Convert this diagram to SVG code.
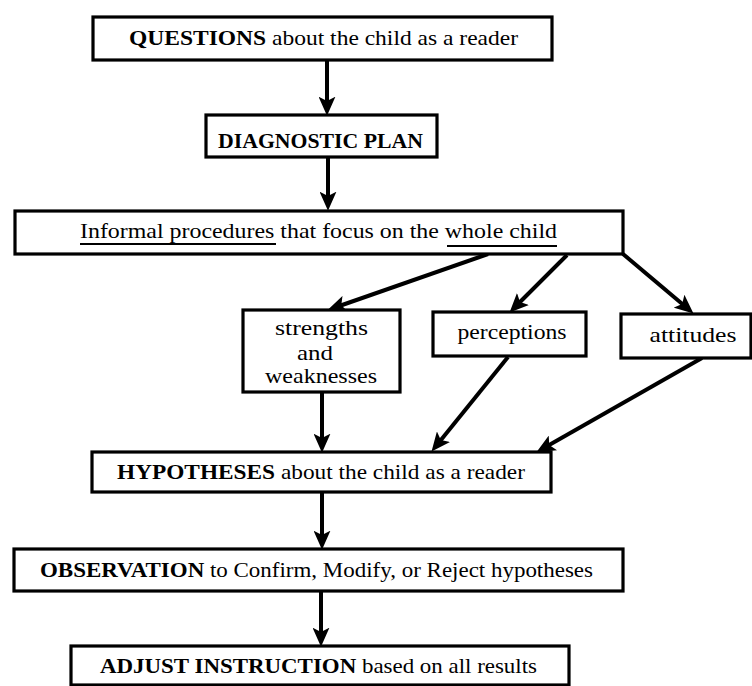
<svg xmlns="http://www.w3.org/2000/svg" width="752" height="686" viewBox="0 0 752 686">
<style>
.box{fill:#fff;stroke:#000;stroke-width:3.2}
.t{font-family:"Liberation Serif","Times New Roman",serif;font-size:22px;fill:#000;text-anchor:middle}
.b{font-weight:bold}
.c{stroke:#000;stroke-width:4;fill:none;marker-end:url(#ah)}
.u{stroke:#000;stroke-width:2}
</style>
<defs>
<marker id="ah" viewBox="0 0 18 16" refX="6" refY="8" markerWidth="19" markerHeight="17" markerUnits="userSpaceOnUse" orient="auto">
<path d="M0,0 L18,8 L0,16 L4,8 z" fill="#000"/>
</marker>
</defs>
<rect width="752" height="686" fill="#fff"/>
<g id="connectors">
<line class="c" x1="327" y1="59" x2="327" y2="103"/>
<line class="c" x1="328" y1="157" x2="328" y2="198"/>
<line class="c" x1="488" y1="254" x2="339.3" y2="306"/>
<line class="c" x1="567" y1="255" x2="518.5" y2="303.5"/>
<line class="c" x1="623" y1="254" x2="683.8" y2="305.3"/>
<line class="c" x1="322" y1="392" x2="322" y2="440"/>
<line class="c" x1="508" y1="357" x2="439.5" y2="441.7"/>
<line class="c" x1="702" y1="358" x2="547.4" y2="446.1"/>
<line class="c" x1="322" y1="492" x2="322" y2="537"/>
<line class="c" x1="321" y1="591" x2="321" y2="634"/>
</g>
<g id="questions">
<rect class="box" x="93" y="17" width="459" height="43"/>
<text class="t" x="323.5" y="45" textLength="389" lengthAdjust="spacingAndGlyphs"><tspan class="b">QUESTIONS</tspan> about the child as a reader</text>
</g>
<g id="plan">
<rect class="box" x="206" y="115" width="231" height="42"/>
<text class="t b" x="320.5" y="148" textLength="205" lengthAdjust="spacingAndGlyphs">DIAGNOSTIC PLAN</text>
</g>
<g id="informal">
<rect class="box" x="15" y="211" width="608" height="43"/>
<text class="t" x="318.5" y="238" textLength="477" lengthAdjust="spacingAndGlyphs">Informal procedures that focus on the whole child</text>
<line class="u" x1="80" y1="244" x2="276" y2="244"/>
<line class="u" x1="447" y1="246" x2="557" y2="246"/>
</g>
<g id="strengths">
<rect class="box" x="243" y="310" width="157" height="82"/>
<text class="t" x="321.5" y="335" textLength="93" lengthAdjust="spacingAndGlyphs">strengths</text>
<text class="t" x="315" y="360" textLength="36" lengthAdjust="spacingAndGlyphs">and</text>
<text class="t" x="321" y="383" textLength="112" lengthAdjust="spacingAndGlyphs">weaknesses</text>
</g>
<g id="perceptions">
<rect class="box" x="433" y="312" width="153" height="44"/>
<text class="t" x="512" y="339" textLength="109" lengthAdjust="spacingAndGlyphs">perceptions</text>
</g>
<g id="attitudes">
<rect class="box" x="621" y="314" width="130" height="44"/>
<text class="t" x="693" y="342" textLength="87" lengthAdjust="spacingAndGlyphs">attitudes</text>
</g>
<g id="hypotheses">
<rect class="box" x="92" y="452" width="459" height="40"/>
<text class="t" x="321" y="479" textLength="408" lengthAdjust="spacingAndGlyphs"><tspan class="b">HYPOTHESES</tspan> about the child as a reader</text>
</g>
<g id="observation">
<rect class="box" x="14" y="549" width="609" height="42"/>
<text class="t" x="316.5" y="577" textLength="553" lengthAdjust="spacingAndGlyphs"><tspan class="b">OBSERVATION</tspan> to Confirm, Modify, or Reject hypotheses</text>
</g>
<g id="adjust">
<rect class="box" x="71" y="646" width="498" height="39"/>
<text class="t" x="318.5" y="673" textLength="437" lengthAdjust="spacingAndGlyphs"><tspan class="b">ADJUST INSTRUCTION</tspan> based on all results</text>
</g>
</svg>
